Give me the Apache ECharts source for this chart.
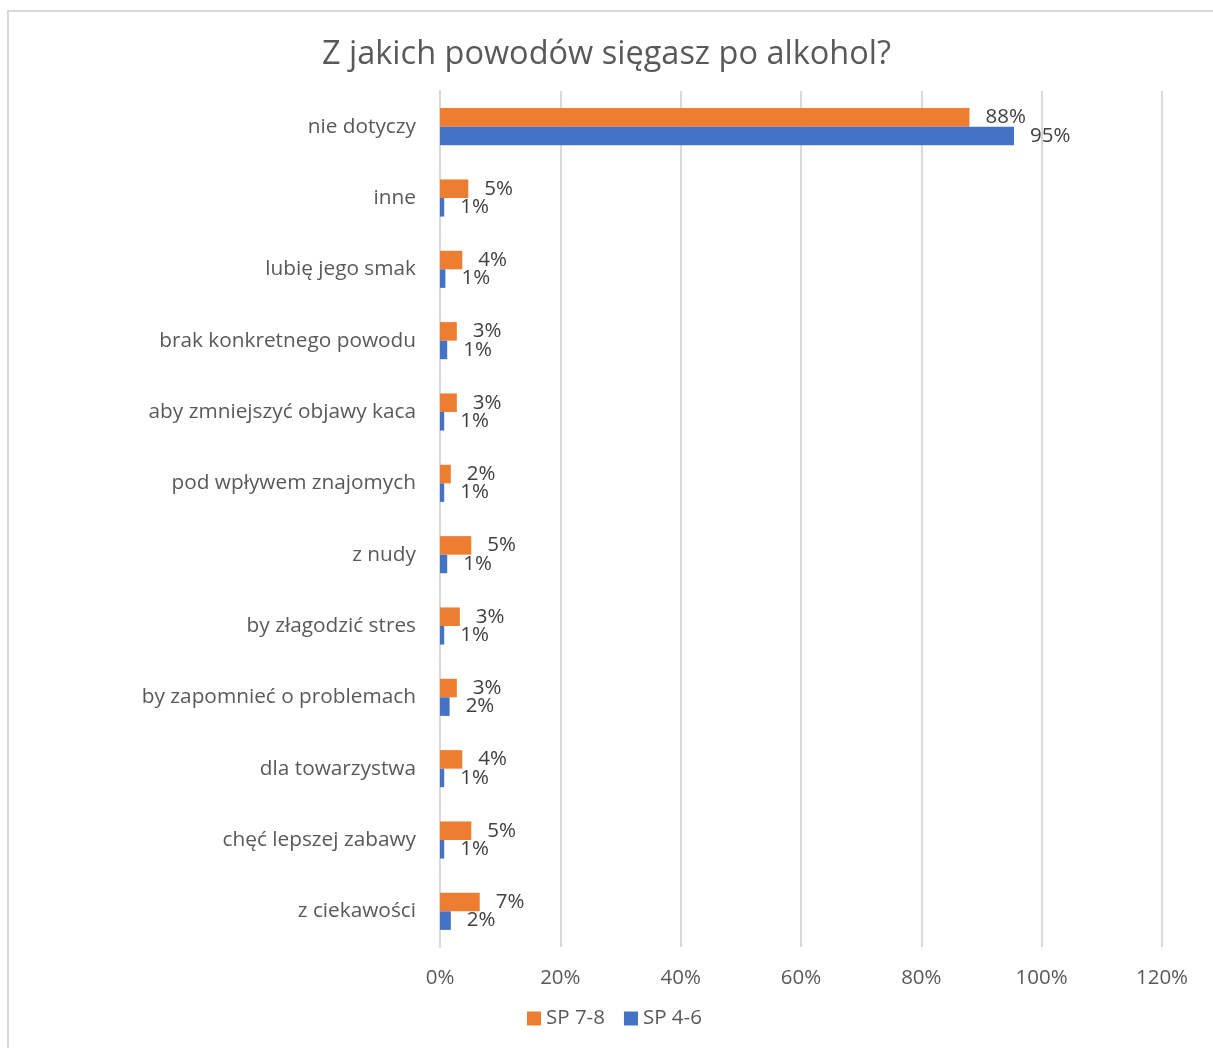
<!DOCTYPE html>
<html>
<head>
<meta charset="utf-8">
<script src="https://cdn.jsdelivr.net/npm/echarts@6/dist/echarts.min.js"></script>
<style>
	html, body { margin: 0; padding: 0; overflow: hidden; background: #fff; }
	#frame { position: absolute; left: 7px; top: 10px; width: 1300px; height: 1100px; border: 2px solid #d9d9d9; }
	#chart { position: absolute; left: 0; top: 0; width: 1213px; height: 1048px; }
</style>
</head>
<body>
<div id="frame"></div>
<div id="chart"></div>
<script>
	// kategorie od dołu do góry
	var categories = ['z ciekawości', 'chęć lepszej zabawy', 'dla towarzystwa', 'by zapomnieć o problemach',
		'by złagodzić stres', 'z nudy', 'pod wpływem znajomych', 'aby zmniejszyć objawy kaca',
		'brak konkretnego powodu', 'lubię jego smak', 'inne', 'nie dotyczy'];
	var sp78 = [6.6, 5.2, 3.7, 2.8, 3.3, 5.2, 1.8, 2.8, 2.8, 3.7, 4.7, 88.0];
	var sp46 = [1.8, 0.7, 0.7, 1.6, 0.7, 1.2, 0.7, 0.7, 1.2, 0.9, 0.7, 95.4];
	var xTicks = [0, 20, 40, 60, 80, 100, 120];

	var font = 'Open Sans';
	var txt = '#595959';

	function pct(p) { return Math.round(p.value) + '%'; }

	var mychart = echarts.init(document.getElementById('chart'));
	var option = {
		animation: false,
		textStyle: { fontFamily: font },
		title: {
			text: 'Z jakich powodów sięgasz po alkohol?',
			left: 'center',
			top: 33,
			textStyle: { fontSize: 32.5, fontWeight: 'normal', color: txt, fontFamily: font }
		},
		legend: {
			data: ['SP 7-8', 'SP 4-6'],
			bottom: 14,
			left: 522,
			itemWidth: 14,
			itemHeight: 14,
			itemGap: 19,
			icon: 'rect',
			textStyle: { fontSize: 20.5, color: txt, fontFamily: font }
		},
		grid: { left: 440, right: 51, top: 91, bottom: 101 },
		xAxis: {
			type: 'value',
			min: xTicks[0],
			max: xTicks[xTicks.length - 1],
			interval: 20,
			axisLine: { show: false },
			axisTick: { show: false },
			axisLabel: { formatter: '{value}%', fontSize: 20.5, color: txt, margin: 21, fontFamily: font },
			splitLine: { lineStyle: { color: '#d9d9d9', width: 2 } }
		},
		yAxis: {
			type: 'category',
			data: categories,
			axisLine: { lineStyle: { color: '#d9d9d9', width: 2 } },
			axisTick: { show: false },
			axisLabel: { fontSize: 20.8, color: txt, margin: 24, fontFamily: font }
		},
		series: [
			{
				name: 'SP 7-8',
				type: 'bar',
				data: sp78,
				barGap: '0%',
				barCategoryGap: '48%',
				itemStyle: { color: '#ED7D31' },
				label: {
					show: true, position: 'right', distance: 16,
					fontSize: 20.5, color: '#404040', fontFamily: font,
					formatter: pct
				}
			},
			{
				name: 'SP 4-6',
				type: 'bar',
				data: sp46,
				barGap: '0%',
				barCategoryGap: '48%',
				itemStyle: { color: '#4472C4' },
				label: {
					show: true, position: 'right', distance: 16,
					fontSize: 20.5, color: '#404040', fontFamily: font,
					formatter: pct
				}
			}
		]
	};
	mychart.setOption(option);
	window.addEventListener('resize', function () { mychart.resize(); });
</script>
</body>
</html>
